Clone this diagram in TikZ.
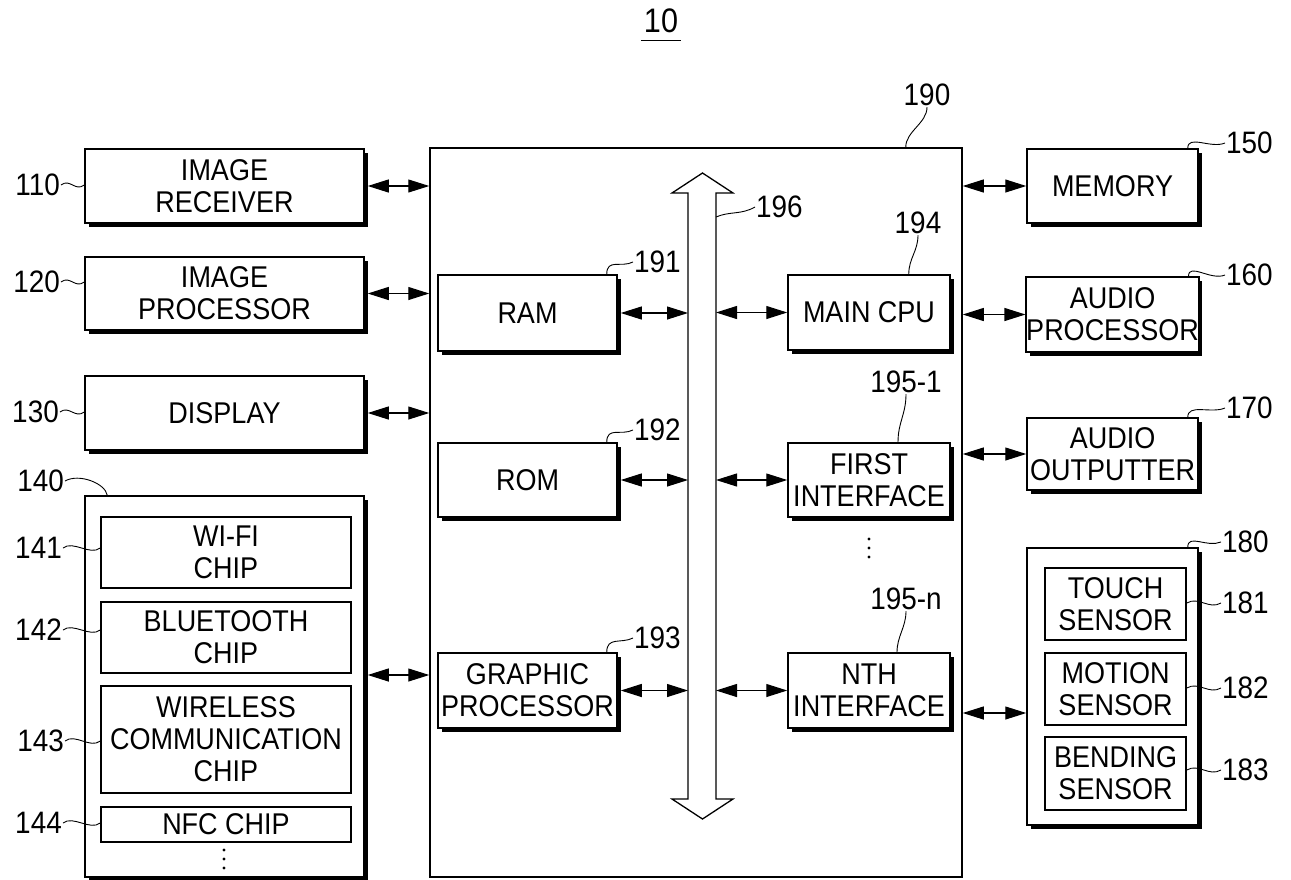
\documentclass[tikz,border=0pt]{standalone}
\usepackage{fontspec}
\setmainfont{Liberation Sans}[FakeStretch=0.9]
\usetikzlibrary{arrows.meta,shadows}

\begin{document}
\begin{tikzpicture}[x=1pt,y=-1pt,font=\fontsize{30}{32}\selectfont,
  blk/.style={draw,line width=1.5pt,fill=white,align=center,inner sep=0pt},
  sblk/.style={blk,drop shadow={shadow xshift=3.5pt,shadow yshift=-3.5pt,fill=black,opacity=1}},
  num/.style={inner sep=1pt,font=\fontsize{31}{34}\selectfont},
  lead/.style={line width=0.9pt},
  bi/.style={{Triangle[length=21pt,width=13pt]}-{Triangle[length=21pt,width=13pt]},line width=1.1pt}]
          \useasboundingbox (0,0) rectangle (1291,879);
          \node[num,font=\fontsize{34}{36}\selectfont] (t10) at (661,21) {10};
          \draw[line width=1.2pt] ([xshift=-2pt,yshift=-6pt]t10.south west) -- ([xshift=2pt,yshift=-6pt]t10.south east);
          \node[blk,minimum width=532pt,minimum height=729pt] (ctrl) at (696,512.5) {};
            \node[sblk,minimum width=279pt,minimum height=74pt] (rcv) at (224.5,186) {IMAGE\\RECEIVER};
            \node[sblk,minimum width=279pt,minimum height=73pt] (iproc) at (224.5,293.5) {IMAGE\\PROCESSOR};
            \node[sblk,minimum width=279pt,minimum height=74pt] (disp) at (224.5,413) {DISPLAY};
            \node[sblk,minimum width=279pt,minimum height=381pt] (comm) at (224.5,686.5) {};
             \node[blk,minimum width=250pt,minimum height=71pt] (wifi) at (226,552.5) {WI-FI\\CHIP};
             \node[blk,minimum width=250pt,minimum height=71pt] (bt) at (226,637.5) {BLUETOOTH\\CHIP};
             \node[blk,minimum width=250pt,minimum height=107pt] (wcc) at (226,739.5) {WIRELESS\\COMMUNICATION\\CHIP};
             \node[blk,minimum width=250pt,minimum height=35pt] (nfc) at (226,824.5) {NFC CHIP};
             \foreach \k in {0,1,2} \fill (224,850+9*\k) circle (1.7);
            \node[sblk,minimum width=179pt,minimum height=76pt] (ram) at (527.5,313) {RAM};
            \node[sblk,minimum width=179pt,minimum height=74pt] (rom) at (527.5,480) {ROM};
            \node[sblk,minimum width=179pt,minimum height=75pt] (gpu) at (527.5,690.5) {GRAPHIC\\PROCESSOR};
            \node[sblk,minimum width=162pt,minimum height=75pt] (cpu) at (869,312.5) {MAIN CPU};
            \node[sblk,minimum width=162pt,minimum height=74pt] (ifone) at (869,480) {FIRST\\INTERFACE};
             \foreach \k in {0,1,2} \fill (869,539+9*\k) circle (1.7);
            \node[sblk,minimum width=162pt,minimum height=75pt] (ifn) at (869,690.5) {NTH\\INTERFACE};
            \node[sblk,minimum width=171pt,minimum height=74pt] (mem) at (1112.5,186) {MEMORY};
            \node[sblk,minimum width=171pt,minimum height=75pt] (aproc) at (1112.5,314.5) {AUDIO\\PROCESSOR};
            \node[sblk,minimum width=171pt,minimum height=72pt] (aout) at (1112.5,454) {AUDIO\\OUTPUTTER};
            \node[sblk,minimum width=171pt,minimum height=277pt] (sens) at (1112.5,686.5) {};
             \node[blk,minimum width=141pt,minimum height=72pt] (touch) at (1115.5,604) {TOUCH\\SENSOR};
             \node[blk,minimum width=141pt,minimum height=72pt] (motion) at (1115.5,689) {MOTION\\SENSOR};
             \node[blk,minimum width=141pt,minimum height=73pt] (bend) at (1115.5,773.5) {BENDING\\SENSOR};
          \draw[line width=1.3pt,fill=white] (688,799) -- (688,193) -- (672,193) -- (702.5,173) -- (733,193) -- (716,193)
                -- (716,799) -- (733,799) -- (702.5,819) -- (672,799) -- cycle;
          \coordinate (busl) at (688,500);
          \coordinate (busr) at (716,500);
          \coordinate (bus196) at (716,217);
          \coordinate (commout) at ([yshift=11.5pt]comm.east);
          \coordinate (sensin) at ([yshift=-26.5pt]sens.west);
             \draw[bi,shorten <=3pt] (rcv.east) -- (rcv.east -| ctrl.west);
             \draw[bi,shorten <=3pt] (iproc.east) -- (iproc.east -| ctrl.west);
             \draw[bi,shorten <=3pt] (disp.east) -- (disp.east -| ctrl.west);
             \draw[bi,shorten <=3pt] (commout) -- (commout -| ctrl.west);
             \draw[bi,shorten <=3pt] (ram.east) -- (ram.east -| busl);
             \draw[bi,shorten <=3pt] (rom.east) -- (rom.east -| busl);
             \draw[bi,shorten <=3pt] (gpu.east) -- (gpu.east -| busl);
             \draw[bi] (busr |- cpu.west) -- (cpu.west);
             \draw[bi] (busr |- ifone.west) -- (ifone.west);
             \draw[bi] (busr |- ifn.west) -- (ifn.west);
             \draw[bi] (ctrl.east |- mem.west) -- (mem.west);
             \draw[bi] (ctrl.east |- aproc.west) -- (aproc.west);
             \draw[bi] (ctrl.east |- aout.west) -- (aout.west);
             \draw[bi] (sensin -| ctrl.east) -- (sensin);
          \node[num,anchor=east] (n110) at (61,185) {110};
          \node[num,anchor=east] (n120) at (61,282) {120};
          \node[num,anchor=east] (n130) at (60,412) {130};
          \node[num,anchor=east] (n140) at (65,481) {140};
          \node[num,anchor=east] (n141) at (63,548) {141};
          \node[num,anchor=east] (n142) at (63,630) {142};
          \node[num,anchor=east] (n143) at (65,741) {143};
          \node[num,anchor=east] (n144) at (63,823) {144};
          \node[num] (n190) at (927,95) {190};
          \node[num,anchor=west] (n191) at (633,262) {191};
          \node[num,anchor=west] (n192) at (633,430) {192};
          \node[num,anchor=west] (n193) at (633,638) {193};
          \node[num] (n194) at (918,223) {194};
          \node[num] (n1951) at (906,382) {195-1};
          \node[num] (n195n) at (906,599) {195-n};
          \node[num,anchor=west] (n196) at (755,207) {196};
          \node[num,anchor=west] (n150) at (1225,143) {150};
          \node[num,anchor=west] (n160) at (1225,275) {160};
          \node[num,anchor=west] (n170) at (1225,408) {170};
          \node[num,anchor=west] (n180) at (1221,542) {180};
          \node[num,anchor=west] (n181) at (1221,603) {181};
          \node[num,anchor=west] (n182) at (1221,688) {182};
          \node[num,anchor=west] (n183) at (1221,770) {183};
             \draw[lead] (n110.east) .. controls +(9,-7) and +(-9,7) .. (n110.east -| rcv.west);
             \draw[lead] (n120.east) .. controls +(9,-7) and +(-9,7) .. (n120.east -| iproc.west);
             \draw[lead] (n130.east) .. controls +(9,-7) and +(-9,7) .. (n130.east -| disp.west);
             \draw[lead] (n140.east) .. controls +(14,-8) and +(-2,-12) .. ([xshift=23pt]comm.north west);
             \draw[lead] (n141.east) .. controls +(10,-8) and +(-10,8) .. (n141.east -| wifi.west);
             \draw[lead] (n142.east) .. controls +(10,-8) and +(-10,8) .. (n142.east -| bt.west);
             \draw[lead] (n143.east) .. controls +(10,-8) and +(-10,8) .. (n143.east -| wcc.west);
             \draw[lead] (n144.east) .. controls +(10,-8) and +(-10,8) .. (n144.east -| nfc.west);
             \draw[lead] (n190.south) .. controls +(0,16) and +(0,-16) .. ([xshift=-57pt]ctrl.north east);
             \draw[lead] (n191.west) .. controls +(-12,6) and +(0,-16) .. ([xshift=-11pt]ram.north east);
             \draw[lead] (n192.west) .. controls +(-12,6) and +(0,-16) .. ([xshift=-11pt]rom.north east);
             \draw[lead] (n193.west) .. controls +(-12,6) and +(0,-16) .. ([xshift=-11pt]gpu.north east);
             \draw[lead] (n194.south) .. controls +(0,16) and +(0,-16) .. ([xshift=-42pt]cpu.north east);
             \draw[lead] (n1951.south) .. controls +(0,20) and +(0,-20) .. ([xshift=29pt]ifone.north);
             \draw[lead] (n195n.south) .. controls +(0,16) and +(0,-16) .. ([xshift=28pt]ifn.north);
             \draw[lead] (n196.west) .. controls +(-14,8) and +(14,-6) .. (bus196);
             \draw[lead] (n150.west) .. controls +(-14,6) and +(0,-14) .. ([xshift=-11pt]mem.north east);
             \draw[lead] (n160.west) .. controls +(-14,6) and +(0,-14) .. ([xshift=-11pt]aproc.north east);
             \draw[lead] (n170.west) .. controls +(-14,6) and +(0,-14) .. ([xshift=-11pt]aout.north east);
             \draw[lead] (n180.west) .. controls +(-14,6) and +(0,-14) .. ([xshift=-11pt]sens.north east);
             \draw[lead] (n181.west) .. controls +(-12,7) and +(12,-7) .. (n181.west -| touch.east);
             \draw[lead] (n182.west) .. controls +(-12,7) and +(12,-7) .. (n182.west -| motion.east);
             \draw[lead] (n183.west) .. controls +(-12,7) and +(12,-7) .. (n183.west -| bend.east);
      \end{tikzpicture}
\end{document}
